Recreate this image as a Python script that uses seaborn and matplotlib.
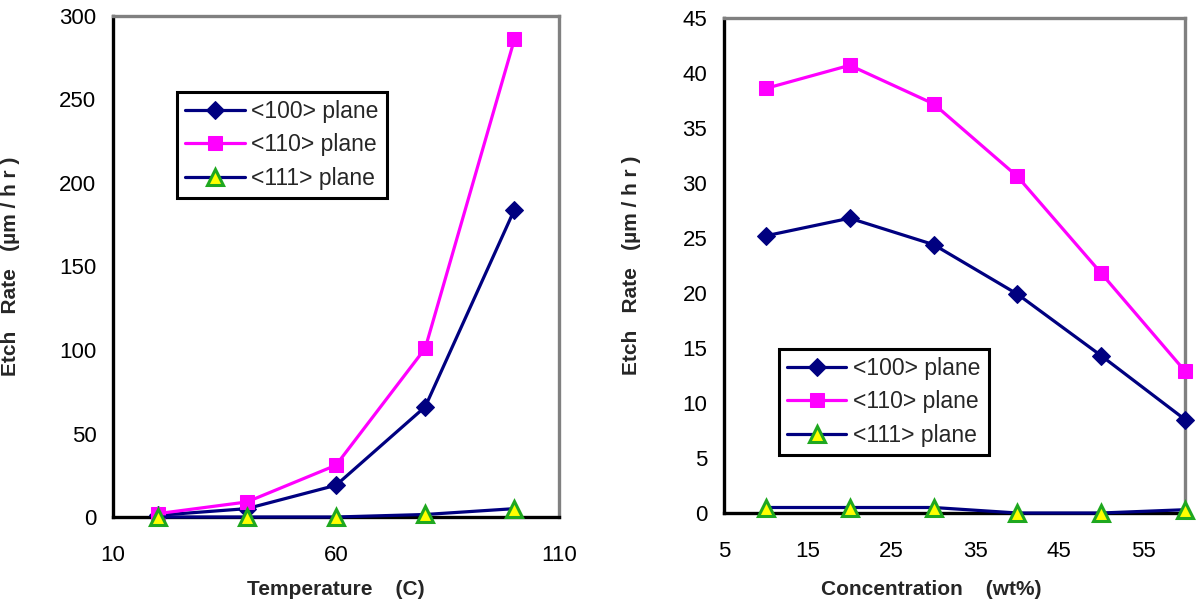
import numpy as np
import pandas as pd
import matplotlib
matplotlib.use("Agg")
import matplotlib.pyplot as plt
import seaborn as sns
from matplotlib.ticker import MultipleLocator, FixedLocator

# left panel: etch rate vs temperature
temp_c = [20, 40, 60, 80, 100]
temp_100 = [1, 5, 19, 66, 184]
temp_110 = [2, 9, 31, 101, 286]
temp_111 = [0, 0, 0, 1.5, 5]

# right panel: etch rate vs concentration
conc_wt = [10, 20, 30, 40, 50, 60]
conc_100 = [25.2, 26.8, 24.4, 19.9, 14.3, 8.5]
conc_110 = [38.6, 40.7, 37.2, 30.6, 21.8, 12.9]
conc_111 = [0.5, 0.5, 0.5, 0.0, 0.0, 0.3]

labels = ['<100> plane', '<110> plane', '<111> plane']

sns.set_style("white")
plt.rcParams['font.family'] = ['Liberation Sans', 'DejaVu Sans']

NAVY = '#000080'
MAGENTA = '#FF00FF'
GREEN = '#1FA81F'
YELLOW = '#FFFF00'

styles = [
    dict(color=NAVY, marker='D', markersize=9, markerfacecolor=NAVY, markeredgecolor=NAVY),
    dict(color=MAGENTA, marker='s', markersize=10, markerfacecolor=MAGENTA, markeredgecolor=MAGENTA),
    dict(color=NAVY, marker='^', markersize=11, markerfacecolor=YELLOW, markeredgecolor=GREEN, markeredgewidth=2.2),
]

fig = plt.figure(figsize=(11.97, 6.02), dpi=100)
ax1 = fig.add_axes([113/1197, 1-517/602, (559-113)/1197, (517-16)/602])
ax2 = fig.add_axes([724/1197, 1-513/602, (1185-724)/1197, (513-18)/602])


def draw(ax, x, series):
    for ys, lab, st in zip(series, labels, styles):
        df = pd.DataFrame({'x': x, 'y': ys})
        sns.lineplot(data=df, x='x', y='y', ax=ax, label=lab, linewidth=2.3,
                     clip_on=False, zorder=3, **st)


def style_axes(ax):
    for side in ['left', 'bottom']:
        ax.spines[side].set_color('black')
        ax.spines[side].set_linewidth(2.4)
    for side in ['top', 'right']:
        ax.spines[side].set_color('#808080')
        ax.spines[side].set_linewidth(2.4)
    ax.tick_params(axis='both', which='major', direction='inout', length=8, width=2,
                   color='black', labelsize=16, labelcolor='black')
    ax.tick_params(axis='y', which='major', pad=8)
    ax.tick_params(axis='x', which='major', pad=16)
    ax.tick_params(axis='both', which='minor', direction='in', length=5, width=2, color='black')


label_kw = dict(fontsize=15, fontweight='bold')

draw(ax1, temp_c, [temp_100, temp_110, temp_111])
ax1.set_xlim(10, 110)
ax1.set_ylim(0, 300)
ax1.xaxis.set_major_locator(FixedLocator([10, 60, 110]))
ax1.xaxis.set_minor_locator(FixedLocator([30, 50, 70, 90]))
ax1.yaxis.set_major_locator(MultipleLocator(50))
ax1.yaxis.set_minor_locator(MultipleLocator(10))
style_axes(ax1)
ax1.set_xlabel('Temperature    (C)', **label_kw)
ax1.set_ylabel('Etch   Rate   (µm / h r )', **label_kw)
ax1.xaxis.set_label_coords(0.5, -0.125)
ax1.yaxis.set_label_coords(-0.208, 0.5)

draw(ax2, conc_wt, [conc_100, conc_110, conc_111])
ax2.set_xlim(5, 60)
ax2.set_ylim(0, 45)
ax2.xaxis.set_major_locator(FixedLocator([5, 15, 25, 35, 45, 55]))
ax2.yaxis.set_major_locator(MultipleLocator(5))
ax2.yaxis.set_minor_locator(MultipleLocator(1))
style_axes(ax2)
ax2.tick_params(axis='x', which='major', direction='in', length=6, pad=20)
ax2.set_xlabel('Concentration    (wt%)', **label_kw)
ax2.set_ylabel('Etch   Rate   (µm / h r )', **label_kw)
ax2.xaxis.set_label_coords(0.449, -0.135)
ax2.yaxis.set_label_coords(-0.18, 0.5)

legend_kw = dict(loc='upper left', fontsize=16.5, frameon=True, fancybox=False,
                 edgecolor='black', framealpha=1, borderaxespad=0, handlelength=2.6,
                 handletextpad=0.3, labelspacing=0.45, borderpad=0.35)
for ax, anchor in [(ax1, (0.1435, 0.848)), (ax2, (0.119, 0.331))]:
    leg = ax.legend(bbox_to_anchor=anchor, **legend_kw)
    leg.get_frame().set_linewidth(2.2)

fig.savefig('out.png', dpi=100)
